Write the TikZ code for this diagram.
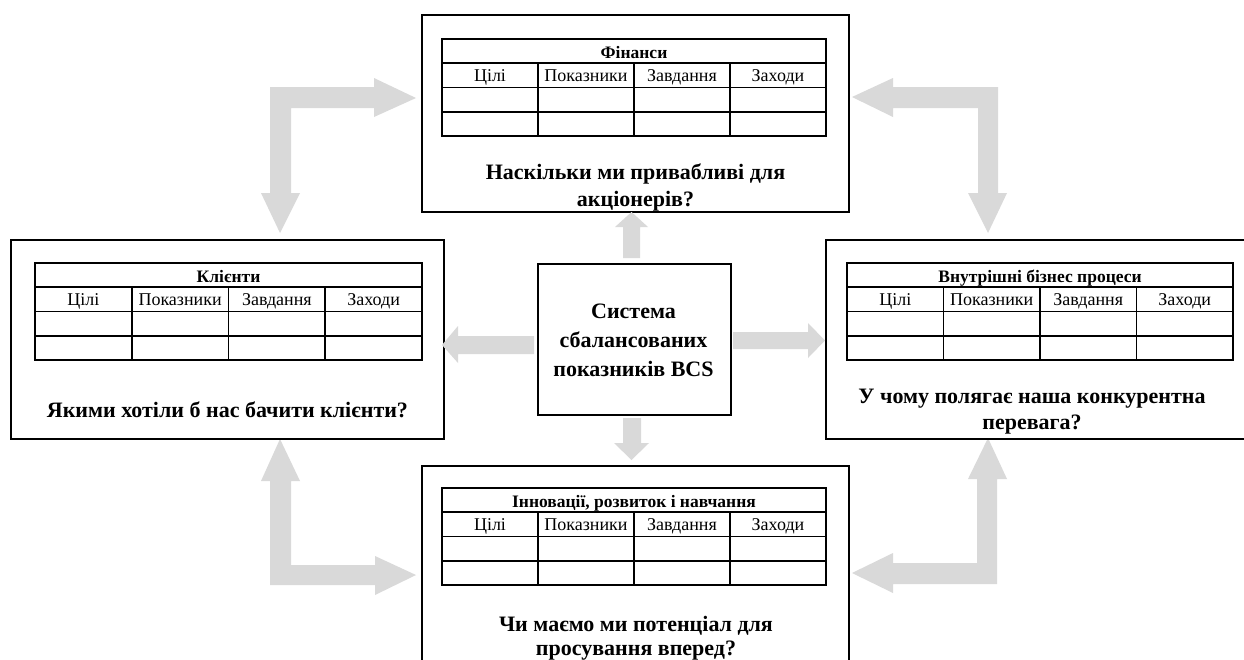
\documentclass[tikz,border=0pt]{standalone}
\usepackage{fontspec}
\setmainfont{Liberation Serif}
\definecolor{arrgray}{HTML}{D9D9D9}
\tikzset{
  box/.style={draw=black, line width=1.8pt, inner sep=0pt, anchor=north west},
  tbl/.style={line width=1.8pt},
  hdr/.style={font=\fontsize{17.5}{19}\selectfont\bfseries, inner sep=0pt, anchor=base},
  cell/.style={font=\fontsize{18}{20}\selectfont, inner sep=0pt, anchor=base},
  quest/.style={font=\fontsize{22}{26}\selectfont\bfseries, inner sep=0pt, anchor=base},
  arr/.style={fill=arrgray, draw=none},
}
\newcommand\bsctable[5]{% name, x, y, width, title
  \begin{scope}[shift={(#2,#3)}]
    \pgfmathsetmacro\tw{#4}
    \draw[tbl] (0,0) rectangle (\tw,97);
    \foreach \yy in {24,48.5,73} \draw[tbl] (0,\yy) -- (\tw,\yy);
    \foreach \k in {1,2,3} \draw[tbl] ({\k*\tw/4},24) -- ({\k*\tw/4},97);
    \node[hdr] (#1-h) at ({\tw/2},19.5) {#5};
    \node[cell] (#1-c1) at ({\tw/8},42.5) {Цілі};
    \node[cell] (#1-c2) at ({3*\tw/8},42.5) {Показники};
    \node[cell] (#1-c3) at ({5*\tw/8},42.5) {Завдання};
    \node[cell] (#1-c4) at ({7*\tw/8},42.5) {Заходи};
  \end{scope}}
\begin{document}
\begin{tikzpicture}[x=1pt,y=-1pt]
\useasboundingbox (0,0) rectangle (1244,659);
\clip (0,0) rectangle (1244,659);
\fill[white] (0,0) rectangle (1244,659);

% ---- grey arrows ----
% top-left L
\fill[arr] (416,98) -- (374,78) -- (374,87) -- (270,87) -- (270,193) -- (261,193)
  -- (280,233) -- (300,193) -- (291,193) -- (291,108) -- (374,108) -- (374,117) -- cycle;
% top-right L
\fill[arr] (852,97) -- (893,78) -- (893,87) -- (998,87) -- (998,193) -- (1007,193)
  -- (988,233) -- (968,193) -- (978,193) -- (978,108) -- (893,108) -- (893,117) -- cycle;
% bottom-left L
\fill[arr] (280,439) -- (300,481) -- (291,481) -- (291,565) -- (375,565) -- (375,556)
  -- (416,575) -- (375,595) -- (375,585) -- (270,585) -- (270,481) -- (261,481) -- cycle;
% bottom-right L
\fill[arr] (988,438) -- (1007,479) -- (997,479) -- (997,584) -- (893,584) -- (893,593)
  -- (852,573) -- (893,553) -- (893,563) -- (977,563) -- (977,479) -- (968,479) -- cycle;

% ---- boxes ----
\node[box, minimum width=427pt, minimum height=197pt] (fin) at (421,14) {};
\node[box, minimum width=433pt, minimum height=199pt] (cli) at (10,239) {};
\node[box, minimum width=440pt, minimum height=199pt] (proc) at (825,239) {};
\node[box, minimum width=427pt, minimum height=220pt] (inn) at (421,465) {};
\node[box, minimum width=193pt, minimum height=151pt] (bsc) at (537,263) {};

% ---- centre arrows ----
\fill[arr] (631.5,212) -- (648,227) -- (640,227) -- (640,258) -- (623,258) -- (623,227) -- (615,227) -- cycle;
\fill[arr] (631.5,460) -- (649,443) -- (641,443) -- (641,418) -- (623,418) -- (623,443) -- (614,443) -- cycle;
\fill[arr] (442,345) -- (458,326) -- (458,336) -- (534,336) -- (534,354) -- (458,354) -- (458,363) -- cycle;
\fill[arr] (825,340.5) -- (808,323) -- (808,332) -- (733,332) -- (733,349) -- (808,349) -- (808,358) -- cycle;

% ---- tables ----
\bsctable{tf}{442}{39}{384}{Фінанси}
\bsctable{tc}{35}{263}{387}{Клієнти}
\bsctable{tp}{847}{263}{386}{Внутрішні бізнес процеси}
\bsctable{ti}{442}{488}{384}{Інновації, розвиток і навчання}

% ---- texts ----
\node[quest] (qf1) at (635.5,179) {Наскільки ми привабливі для};
\node[quest] (qf2) at (635.5,206) {акціонерів?};
\node[quest] (qc1) at (227.5,417) {Якими хотіли б нас бачити клієнти?};
\node[quest] (qp1) at (1032,403) {У чому полягає наша конкурентна};
\node[quest] (qp2) at (1032,429) {перевага?};
\node[quest] (qi1) at (636,631) {Чи маємо ми потенціал для};
\node[quest] (qi2) at (636,655) {просування вперед?};
\node[quest] (tb1) at (633.5,318) {Система};
\node[quest] (tb2) at (633.5,347) {сбалансованих};
\node[quest] (tb3) at (633.5,376) {показників BCS};
\end{tikzpicture}
\end{document}
